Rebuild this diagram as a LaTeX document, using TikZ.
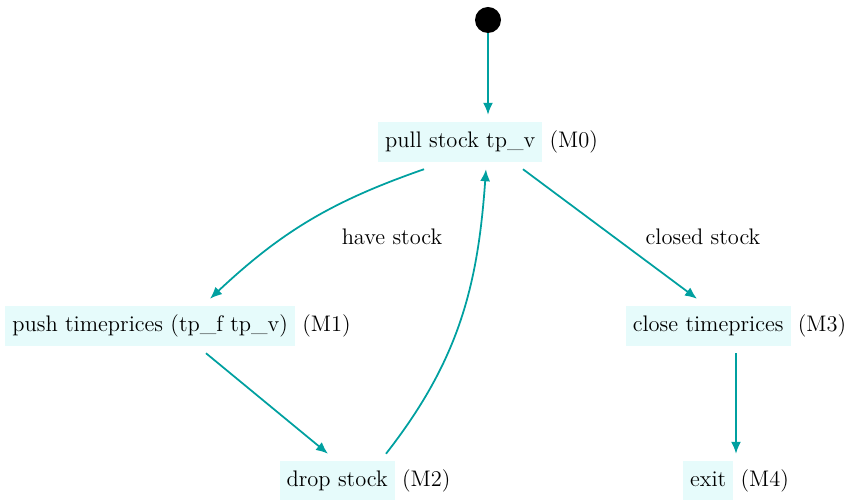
\documentclass[tikz,border=0pt]{standalone}
\usepackage{amsmath,amssymb}
\usepackage{tikz}
\usetikzlibrary{calc,arrows.meta}

\definecolor{edgecol}{RGB}{0,160,160}
\definecolor{boxcol}{RGB}{230,251,251}
\newcommand{\statebox}[2]{{\fboxsep=4pt\colorbox{boxcol}{\strut #1}}\ (#2)}

\begin{document}
\begin{tikzpicture}[
    state/.style={inner sep=0pt, outer sep=4pt, font=\fontsize{12.8}{15}\selectfont},
    trans/.style={draw=edgecol, line width=1pt, -{Latex[length=2.4mm,width=2mm]}},
    lbl/.style={font=\fontsize{12.8}{15}\selectfont}
  ]
    % canvas
    \useasboundingbox (0,0) rectangle (17.08,-10);
    % initial state
    \node[circle, fill=black, minimum size=0.52cm, inner sep=0pt] (init) at (9.76,-0.4) {};
    % states
    \node[state] (m0) at (9.76,-2.84) {\statebox{pull stock tp\_v}{M0}};
    \node[state] (m1) at (3.56,-6.52) {\statebox{push timeprices (tp\_f tp\_v)}{M1}};
    \node[state] (m2) at (7.3,-9.62) {\statebox{drop stock}{M2}};
    \node[state] (m3) at (14.72,-6.52) {\statebox{close timeprices}{M3}};
    \node[state] (m4) at (14.72,-9.62) {\statebox{exit}{M4}};
    % transitions
    \draw[trans] (init) -- (m0);
    \draw[trans] ($(m0.south)+(-1.28,0)$) to[bend right=12] ($(m1.north)+(0.64,0)$);
    \draw[trans] ($(m1.south)+(0.56,0)$) -- ($(m2.north)+(-0.74,0)$);
    \draw[trans] ($(m2.north)+(0.42,0)$) to[out=52,in=-94] ($(m0.south)+(-0.04,0)$);
    \draw[trans] ($(m0.south)+(0.7,0)$) -- ($(m3.north)+(-0.78,0)$);
    \draw[trans] (m3) -- (m4);
    % labels
    \node[lbl] (have) at (7.84,-4.74) {have stock};
    \node[lbl] (closed) at (14.06,-4.74) {closed stock};
\end{tikzpicture}
\end{document}
